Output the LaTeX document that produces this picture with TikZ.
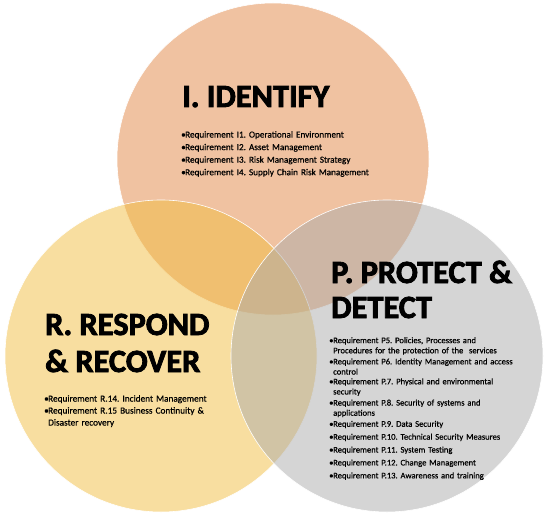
\documentclass[tikz,border=0pt]{standalone}
\usepackage{fontspec}
\setmainfont{Carlito}[FakeBold=0.6]
\newfontfamily\headfont{Carlito-Bold.ttf}[FakeBold=2.5]
\usetikzlibrary{positioning}
\definecolor{idcol}{RGB}{225,133,67}
\definecolor{rrcol}{RGB}{241,189,65}
\definecolor{pdcol}{RGB}{171,171,171}
\newcommand{\req}[1]{\noindent\makebox[4bp][l]{\textbullet}\parbox[t]{205bp}{#1}\par}
\frenchspacing
\tikzset{
  venn/.style={circle,minimum size=312bp,inner sep=0pt,outer sep=0pt,draw=white,line width=.6pt,fill opacity=.5},
  head/.style={anchor=base west,inner sep=0pt,font=\headfont\fontsize{32.5}{36}\selectfont},
  reqs/.style={anchor=north west,inner sep=0pt,align=left,text width=215bp}
}

\begin{document}
\begin{tikzpicture}[x=1bp,y=-1bp]
  \useasboundingbox (0,0) rectangle (550,518);
  % the three sets
  \draw(273,159) node[venn,fill=idcol] (I) {};
  \draw(161,356) node[venn,fill=rrcol] (R) {};
  \draw(387,356) node[venn,fill=pdcol] (P) {};
  % headings
  \node[head] (Ih) at (182,107) {I. IDENTIFY};
  \node[head] (Rh1) at (45,335) {R. RESPOND};
  \node[head] (Rh2) at (45,372) {\& RECOVER};
  \node[head] (Ph1) at (331,283) {P. PROTECT \&};
  \node[head] (Ph2) at (331,318) {DETECT};
  % requirements
  \node[reqs,font=\fontsize{9.2}{12.6}\selectfont] (Il) at (181,131) {%
    \req{Requirement I1. Operational Environment}
    \req{Requirement I2. Asset Management}
    \req{Requirement I3. Risk Management Strategy}
    \req{Requirement I4. Supply Chain Risk Management}};
  \node[reqs,font=\fontsize{9.3}{12}\selectfont] (Rl) at (44,395) {%
    \req{Requirement R.14. Incident Management}
    \req{Requirement R.15 Business Continuity \&\\ Disaster recovery}};
  \node[reqs,font=\fontsize{8.6}{10.2}\selectfont] (Pl) at (329,337) {\setlength{\parskip}{2.75bp}%
    \req{Requirement P5. Policies, Processes and\\ Procedures for the protection of the\ \ services}
    \req{Requirement P6. Identity Management and access\\ control}
    \req{Requirement P.7. Physical and environmental\\ security}
    \req{Requirement P.8. Security of systems and\\ applications}
    \req{Requirement P.9. Data Security}
    \req{Requirement P.10. Technical Security Measures}
    \req{Requirement P.11. System Testing}
    \req{Requirement P.12. Change Management}
    \req{Requirement P.13. Awareness and training}};
\end{tikzpicture}
\end{document}
